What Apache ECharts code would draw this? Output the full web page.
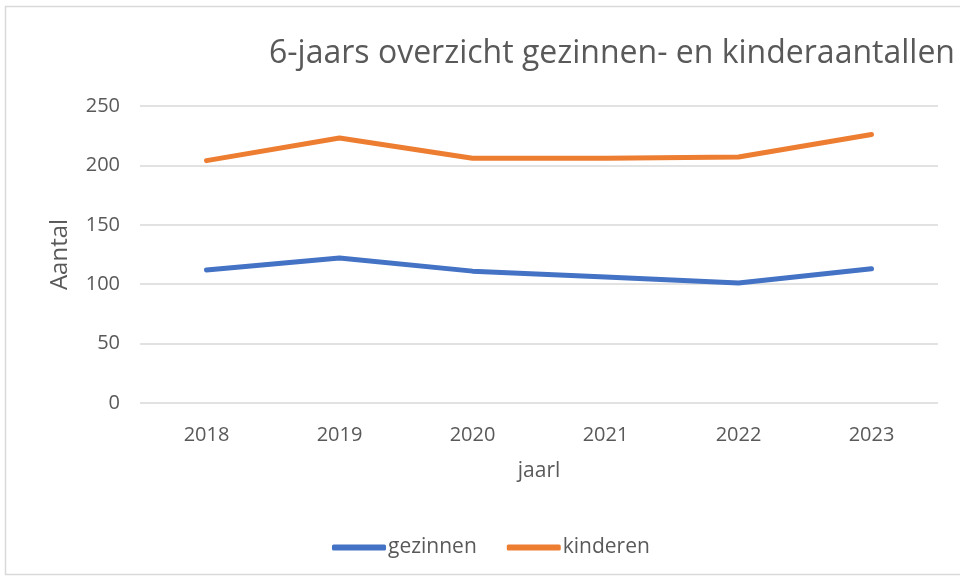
<!DOCTYPE html>
<html>
<head>
<meta charset="utf-8">
<script src="https://cdn.jsdelivr.net/npm/echarts@6/dist/echarts.min.js"></script>
<style>
  html, body { margin: 0; padding: 0; background: #fff; }
  #chart { width: 960px; height: 578px; }
</style>
</head>
<body>
<div id="chart"></div>
<script>
// data
const jaren = ['2018', '2019', '2020', '2021', '2022', '2023'];
const gezinnen = [112, 122, 111, 106, 101, 113];
const kinderen = [204, 223, 206, 206, 207, 226];
const yTicks = [0, 50, 100, 150, 200, 250];

const font = 'Open Sans';
const grey = '#595959';

const chart = echarts.init(document.getElementById('chart'));

const option = {
  backgroundColor: '#fff',
  animation: false,
  textStyle: { fontFamily: font },
  graphic: [
    {
      type: 'rect',
      shape: { x: 5.5, y: 6.5, width: 1000, height: 568 },
      style: { fill: 'none', stroke: '#d9d9d9', lineWidth: 1.5 },
      silent: true
    }
  ],
  title: {
    text: '6-jaars overzicht gezinnen- en kinderaantallen',
    left: 607,
    textAlign: 'center',
    top: 33,
    textStyle: { fontFamily: font, fontSize: 32, fontWeight: 'normal', color: grey }
  },
  legend: {
    data: ['gezinnen', 'kinderen'],
    left: 327,
    top: 532,
    icon: 'roundRect',
    itemWidth: 54,
    itemHeight: 6,
    itemGap: 30,
    textStyle: { fontFamily: font, fontSize: 21, color: grey, padding: [0, 0, 0, -3] }
  },
  grid: { left: 140, right: 22, top: 106, bottom: 175 },
  xAxis: {
    type: 'category',
    data: jaren,
    boundaryGap: true,
    name: 'jaarl',
    nameLocation: 'middle',
    nameGap: 58,
    nameTextStyle: { fontFamily: font, fontSize: 21, color: grey },
    axisLine: { show: false },
    axisTick: { show: false },
    axisLabel: { fontFamily: font, fontSize: 20, color: grey, margin: 22 }
  },
  yAxis: {
    type: 'value',
    min: yTicks[0],
    max: yTicks[yTicks.length - 1],
    interval: 50,
    name: 'Aantal',
    nameLocation: 'middle',
    nameGap: 68,
    nameRotate: 90,
    nameTextStyle: { fontFamily: font, fontSize: 24, color: grey },
    axisLine: { show: false },
    axisTick: { show: false },
    axisLabel: { fontFamily: font, fontSize: 20, color: grey, margin: 20 },
    splitLine: { lineStyle: { color: '#d9d9d9', width: 1.5 } }
  },
  series: [
    {
      name: 'gezinnen',
      type: 'line',
      data: gezinnen,
      symbol: 'none',
      lineStyle: { width: 5, color: '#4472C4', cap: 'round', join: 'round' },
      itemStyle: { color: '#4472C4' }
    },
    {
      name: 'kinderen',
      type: 'line',
      data: kinderen,
      symbol: 'none',
      lineStyle: { width: 5, color: '#ED7D31', cap: 'round', join: 'round' },
      itemStyle: { color: '#ED7D31' }
    }
  ]
};

chart.setOption(option);
</script>
</body>
</html>
